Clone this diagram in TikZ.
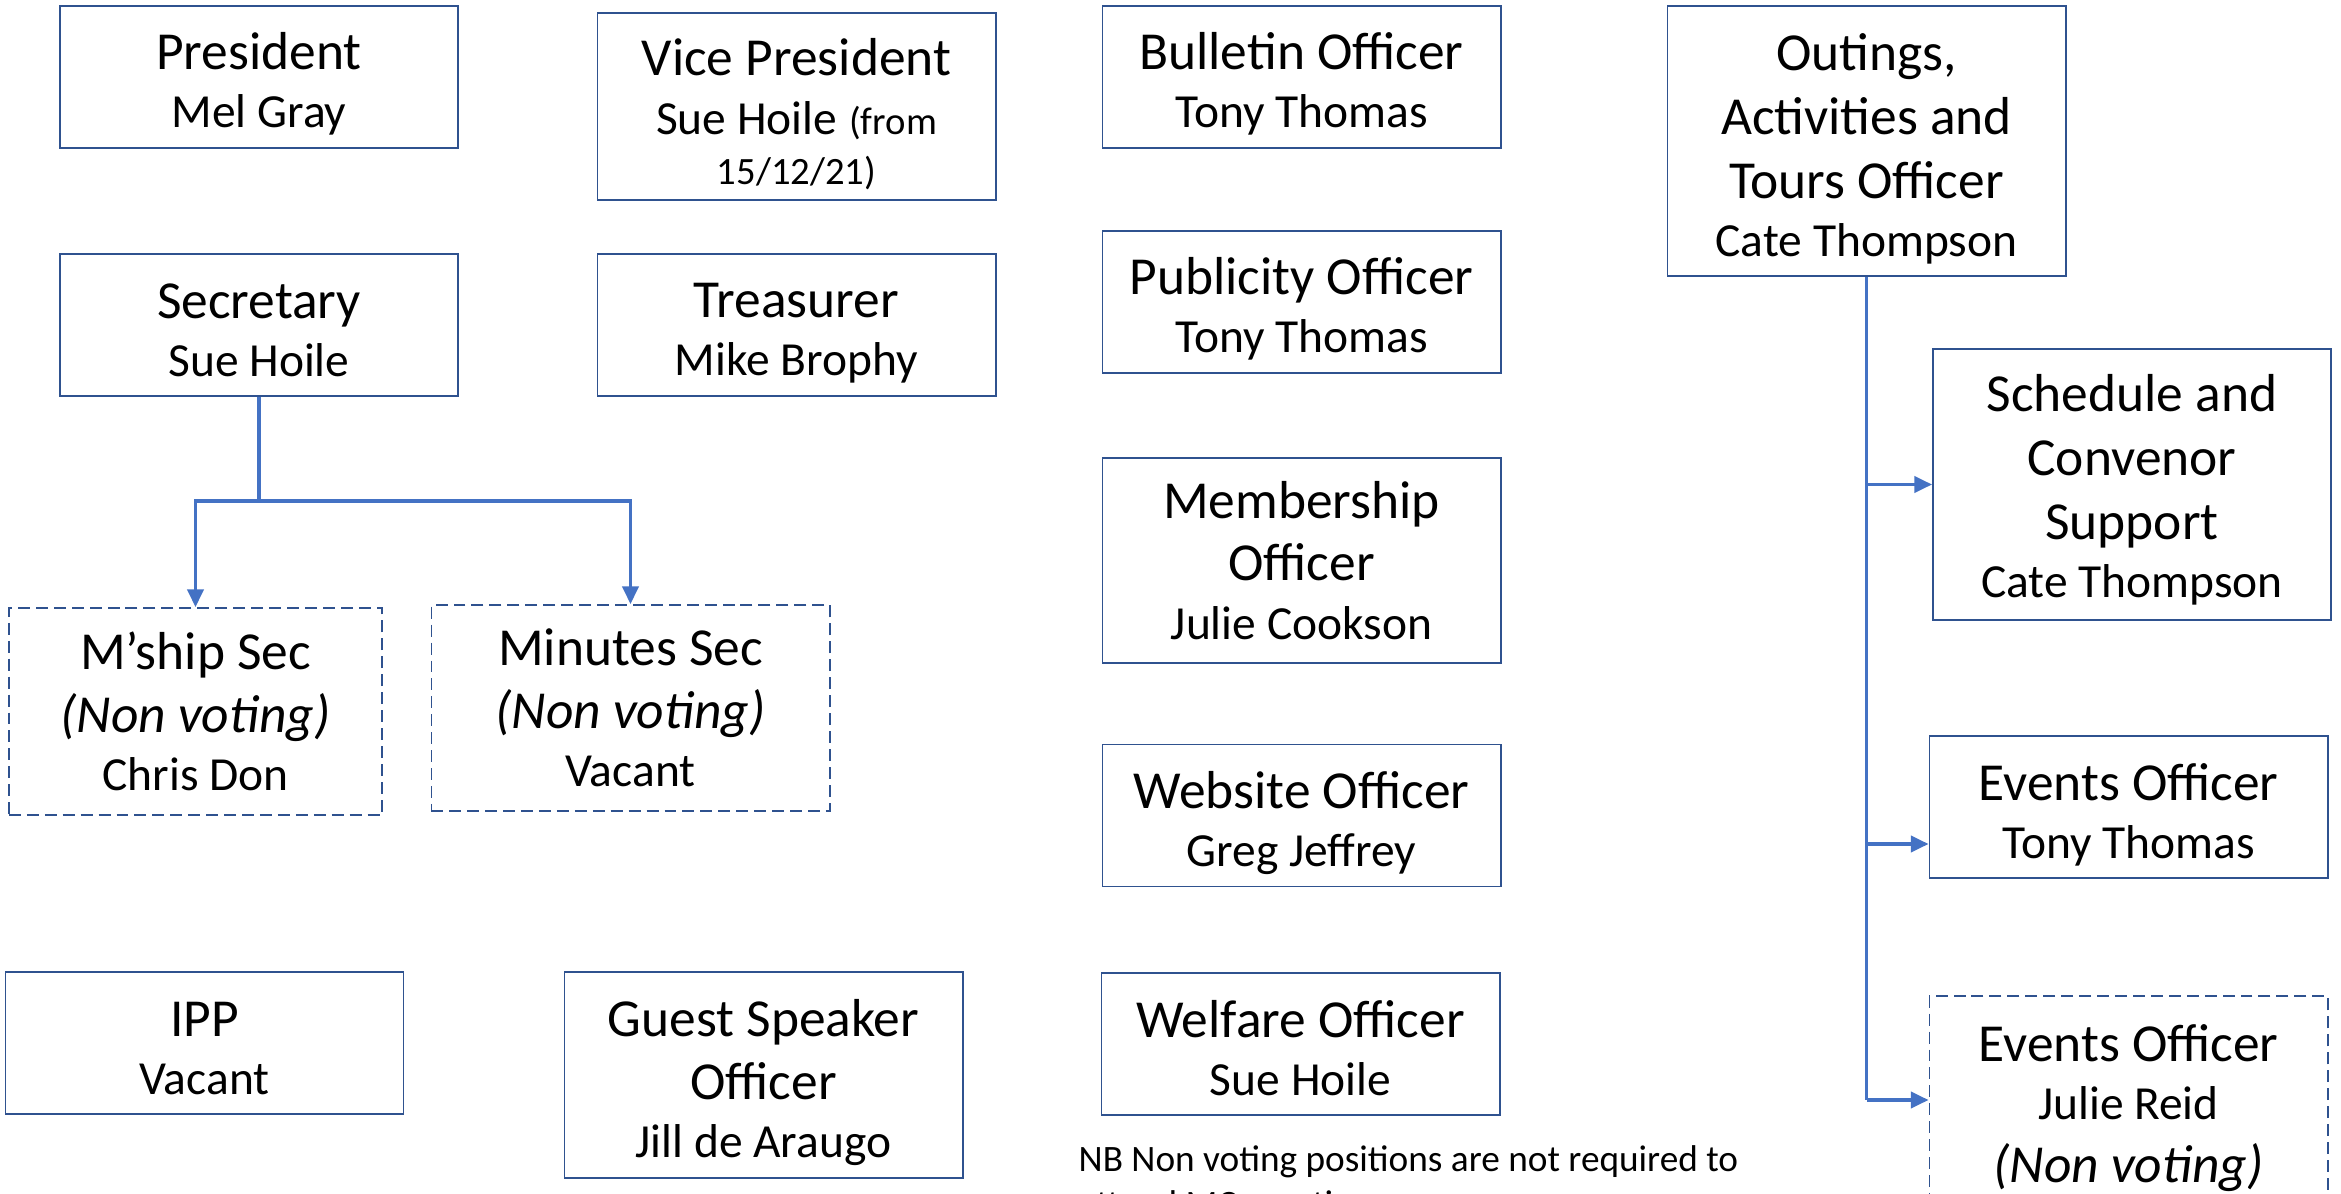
\documentclass[tikz,border=0pt]{standalone}
\usepackage{fontspec}
\setmainfont{Carlito}
\usepackage{tikz}
\usetikzlibrary{arrows.meta}
\usetikzlibrary{calc}

\definecolor{boxline}{HTML}{2F528F}
\definecolor{linkline}{HTML}{4472C4}

\newcommand{\nm}{\fontsize{13.5}{17.8}\selectfont}
\newcommand{\sm}{\fontsize{11}{14}\selectfont}
\newcommand{\nl}{\\[-1.2pt]}

\begin{document}
\begin{tikzpicture}[x=0.01cm,y=-0.01cm,
  box/.style={draw=boxline,line width=0.5pt,rectangle,minimum width=3.98cm,minimum height=1.42cm,inner sep=0pt,align=center,font=\fontsize{15.2}{17.8}\selectfont},
  nvbox/.style={box,dash pattern=on 3.4pt off 1.7pt},
  link/.style={draw=linkline,line width=0.9pt},
  tip/.style={-{Triangle[length=5pt,width=4.6pt]}}]
\useasboundingbox (0,0) rectangle (2341,1194);
\clip (0,0) rectangle (2341,1194);

% top row
\draw (259,77) node[box] (pres) {\rule{0pt}{14.5pt}President\nl{\nm Mel Gray}};
\draw (796.5,106.5) node[box,minimum height=1.87cm] (vp) {\rule{0pt}{15pt}Vice President\nl{\nm Sue Hoile} {\sm (from}\\[-3.5pt]{\sm 15/12/21)}};
\draw (1301.5,77) node[box] (bull) {\rule{0pt}{14.5pt}Bulletin Officer\nl{\nm Tony Thomas}};
\draw (1866.5,141) node[box,minimum height=2.70cm,font=\fontsize{15.2}{18.3}\selectfont] (out) {\rule{0pt}{15pt}Outings,\\Activities and\\Tours Officer\\[-1.8pt]{\nm Cate Thompson}};

\draw (259,325) node[box] (sec) {\rule{0pt}{13pt}Secretary\nl{\nm Sue Hoile}};
\draw (796.5,325) node[box] (treas) {\rule{0pt}{14.5pt}Treasurer\nl{\nm Mike Brophy}};
\draw (1301.5,302) node[box] (pub) {\rule{0pt}{14.5pt}Publicity Officer\nl{\nm Tony Thomas}};
\draw (2132,484.5) node[box,minimum height=2.71cm,font=\fontsize{15.2}{18.3}\selectfont] (sched) {\rule{0pt}{13.5pt}Schedule and\\Convenor\\Support\\[-1.8pt]{\nm Cate Thompson}};

\draw (1301.5,560.5) node[box,minimum height=2.05cm] (memb) {Membership\\Officer\nl{\nm Julie Cookson}};

% non voting
\draw (195.5,711.5) node[nvbox,minimum width=3.73cm,minimum height=2.07cm] (msec) {M’ship Sec\\{\itshape (Non voting)}\nl{\nm Chris Don}};
\draw (630.5,708) node[nvbox,minimum height=2.06cm] (minsec) {Minutes Sec\\{\itshape (Non voting)}\nl{\nm Vacant}};

\draw (1301.5,815.5) node[box] (web) {\rule{0pt}{15pt}Website Officer\nl{\nm Greg Jeffrey}};
\draw (2128.5,807) node[box] (evt) {\rule{0pt}{15pt}Events Officer\nl{\nm Tony Thomas}};

\draw (204.5,1043) node[box] (ipp) {\rule{0pt}{13pt}IPP\nl{\nm Vacant}};
\draw (763.5,1075) node[box,minimum height=2.06cm] (guest) {\rule{0pt}{15pt}Guest Speaker\\Officer\nl{\nm Jill de Araugo}};
\draw (1300.5,1044) node[box] (welf) {\rule{0pt}{13pt}Welfare Officer\nl{\nm Sue Hoile}};
\draw (2128.5,1100) node[nvbox,minimum height=2.08cm] (evr) {\rule{0pt}{15pt}Events Officer\nl{\nm Julie Reid}\\{\itshape (Non voting)}};

\draw (1078,1145) node[anchor=north west,inner sep=0pt,align=left,font=\fontsize{10.6}{12.9}\selectfont] (nb) {NB Non voting positions are not required to\\attend MC meetings};

% secretary branch
\draw[link] (sec.south) -- ++(0,104) coordinate (secjoin);
\draw[link,tip] (secjoin) -| (msec.north);
\draw[link,tip] (secjoin) -| (minsec.north);

% outings branch
\draw[link] (out.south) -- (out.south |- evr.west);
\draw[link,tip] (out.south |- sched.west) -- (sched.west);
\coordinate (evtjoin) at ($(evt.west)+(0,37)$);
\draw[link,tip] (out.south |- evtjoin) -- (evtjoin);
\draw[link,tip] (out.south |- evr.west) -- (evr.west);

\end{tikzpicture}
\end{document}
